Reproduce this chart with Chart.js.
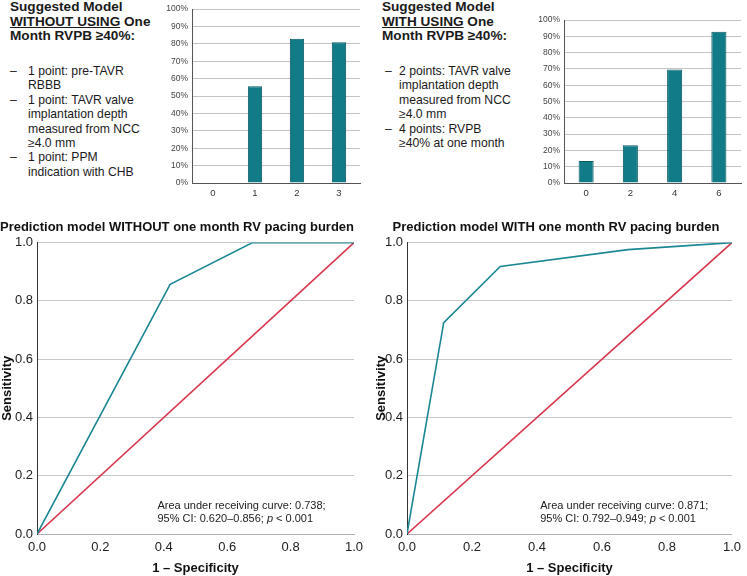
<!DOCTYPE html>
<html>
<head>
<meta charset="utf-8">
<script src="https://cdn.jsdelivr.net/npm/chart.js@4.4.1/dist/chart.umd.min.js"></script>
<style>
    body { margin: 0; background: #fff; }
    #wrap { position: relative; width: 747px; height: 576px; overflow: hidden; font-family: "Liberation Sans", Arial, sans-serif; color: #1a1a1a; }
    .box { position: absolute; }
    .head { font-size: 13.6px; font-weight: bold; line-height: 14.5px; }
    .list { font-size: 12.2px; line-height: 14.4px; }
    .item { display: flex; }
    .item .d { width: 18px; flex: none; }
    canvas { position: absolute; }
</style>
</head>
<body>
<div id="wrap">
    <div class="box head" style="left:10px; top:0px;">Suggested Model<br><u>WITHOUT USING</u> One<br>Month RVPB ≥40%:</div>
    <div class="box list" style="left:10px; top:64px;">
        <div class="item"><span class="d">–</span><span>1 point: pre-TAVR<br>RBBB</span></div>
        <div class="item"><span class="d">–</span><span>1 point: TAVR valve<br>implantation depth<br>measured from NCC<br>≥4.0 mm</span></div>
        <div class="item"><span class="d">–</span><span>1 point: PPM<br>indication with CHB</span></div>
    </div>

    <div class="box head" style="left:382px; top:0px;">Suggested Model<br><u>WITH USING</u> One<br>Month RVPB ≥40%:</div>
    <div class="box list" style="left:385px; top:64px;">
        <div class="item"><span class="d" style="width:14px">–</span><span>2 points: TAVR valve<br>implantation depth<br>measured from NCC<br>≥4.0 mm</span></div>
        <div class="item"><span class="d" style="width:14px">–</span><span>4 points: RVPB<br>≥40% at one month</span></div>
    </div>

    <canvas id="barLeft" style="left:150px; top:0px;" width="215" height="200"></canvas>
    <canvas id="barRight" style="left:530px; top:0px;" width="217" height="200"></canvas>
    <canvas id="rocLeft" style="left:0px; top:200px;" width="372" height="376"></canvas>
    <canvas id="rocRight" style="left:374px; top:200px;" width="373" height="376"></canvas>
</div>

<script>
// bar charts: score -> share of patients with the outcome (%)
const scoresWithout = ["0", "1", "2", "3"];
const pctWithout = [0, 55.6, 82.9, 81.0];
const scoresWith = ["0", "2", "4", "6"];
const pctWith = [13.5, 23.2, 69.7, 92.8];

// ROC curves (x = 1 - specificity, y = sensitivity)
const rocWithoutX = [0, 0.42, 0.68, 1.0];
const rocWithoutY = [0, 0.857, 1.0, 1.0];
const rocWithX = [0, 0.113, 0.287, 0.68, 1.0];
const rocWithY = [0, 0.725, 0.918, 0.976, 1.0];
const refX = [0, 1];
const refY = [0, 1];

const rocTicks = [0, 0.2, 0.4, 0.6, 0.8, 1.0];

const FONT = "'Liberation Sans', Arial, sans-serif";
const TEAL = "#1b8793";
const RED = "#d8374e";
const BAR = "#117b87";

Chart.defaults.font.family = FONT;
Chart.defaults.color = "#222";
Chart.defaults.animation = false;

const toPoints = (xs, ys) => xs.map((x, i) => ({ x: x, y: ys[i] }));

// note text written in data coordinates
const aucNote = {
    id: "aucNote",
    afterDraw(chart, args, opts) {
        if (!opts || !opts.lines) return;
        const ctx = chart.ctx;
        const px = chart.scales.x.getPixelForValue(opts.x);
        let py = chart.scales.y.getPixelForValue(opts.y);
        ctx.save();
        ctx.fillStyle = "#222";
        ctx.textBaseline = "middle";
        opts.lines.forEach(function (parts) {
            let cx = px;
            parts.forEach(function (p) {
                ctx.font = (p.italic ? "italic " : "") + "11px " + FONT;
                ctx.fillText(p.t, cx, py);
                cx += ctx.measureText(p.t).width;
            });
            py += 12.5;
        });
        ctx.restore();
    },
};

function barChart(id, labels, values, yWidth, pad) {
    new Chart(document.getElementById(id), {
        type: "bar",
        data: {
            labels: labels,
            datasets: [
                {
                    data: values,
                    backgroundColor: BAR,
                    borderColor: "#0a5a63",
                    borderWidth: 1,
                    barPercentage: 0.34,
                    categoryPercentage: 1,
                },
            ],
        },
        options: {
            responsive: false,
            layout: { padding: pad },
            plugins: { legend: { display: false }, tooltip: { enabled: false } },
            scales: {
                x: {
                    grid: { display: false, drawTicks: false },
                    border: { color: "#555" },
                    ticks: { font: { size: 9.5 }, color: "#333", padding: 5 },
                    afterFit: (s) => { s.height = 17; },
                },
                y: {
                    min: 0,
                    max: 100,
                    ticks: { stepSize: 10, font: { size: 8.5 }, color: "#444", padding: 4, callback: (v) => v + "%" },
                    grid: { color: "#c4c4c4", drawTicks: false },
                    border: { color: "#555" },
                    afterFit: (s) => { s.width = yWidth; },
                },
            },
        },
    });
}

barChart("barLeft", scoresWithout, pctWithout, 42, { top: 6, right: 5, left: 0, bottom: 0 });
barChart("barRight", scoresWith, pctWith, 34, { top: 20, right: 6, left: 0, bottom: 0 });

function rocChart(id, title, xs, ys, yWidth, padRight, note) {
    new Chart(document.getElementById(id), {
        type: "scatter",
        data: {
            datasets: [
                {
                    data: toPoints(xs, ys),
                    showLine: true,
                    borderColor: TEAL,
                    borderWidth: 1.6,
                    pointRadius: 0,
                },
                {
                    data: toPoints(refX, refY),
                    showLine: true,
                    borderColor: RED,
                    borderWidth: 1.6,
                    pointRadius: 0,
                },
            ],
        },
        options: {
            responsive: false,
            layout: { padding: { top: 0, right: padRight, left: 0, bottom: 0 } },
            plugins: {
                legend: { display: false },
                tooltip: { enabled: false },
                title: {
                    display: true,
                    text: title,
                    color: "#111",
                    font: { size: 13, weight: "bold" },
                    padding: { top: 20, bottom: 7 },
                },
                aucNote: note,
            },
            scales: {
                x: {
                    type: "linear",
                    min: 0,
                    max: 1,
                    afterBuildTicks: (s) => { s.ticks = rocTicks.map((v) => ({ value: v })); },
                    ticks: { font: { size: 13 }, color: "#222", padding: 6, callback: (v) => v.toFixed(1) },
                    grid: { display: false, drawTicks: false },
                    border: { color: "#b0b0b0" },
                    title: {
                        display: true,
                        text: "1 – Specificity",
                        color: "#111",
                        font: { size: 13, weight: "bold" },
                        padding: { top: 4, bottom: 0 },
                    },
                    afterFit: (s) => { s.height = 42; },
                },
                y: {
                    type: "linear",
                    min: 0,
                    max: 1,
                    afterBuildTicks: (s) => { s.ticks = rocTicks.map((v) => ({ value: v })); },
                    ticks: { font: { size: 13 }, color: "#222", padding: 4, callback: (v) => v.toFixed(1) },
                    grid: { color: "#c8c8c8", drawTicks: false },
                    border: { color: "#333" },
                    title: {
                        display: true,
                        text: "Sensitivity",
                        color: "#111",
                        font: { size: 13, weight: "bold" },
                        padding: { top: 0, bottom: 0 },
                    },
                    afterFit: (s) => { s.width = yWidth; },
                },
            },
        },
        plugins: [aucNote],
    });
}

rocChart("rocLeft", "Prediction model WITHOUT one month RV pacing burden", rocWithoutX, rocWithoutY, 37, 18, {
    x: 0.38,
    y: 0.096,
    lines: [
        [{ t: "Area under receiving curve: 0.738;" }],
        [{ t: "95% CI: 0.620–0.856; " }, { t: "p", italic: true }, { t: " < 0.001" }],
    ],
});

rocChart("rocRight", "Prediction model WITH one month RV pacing burden", rocWithX, rocWithY, 33, 9, {
    x: 0.41,
    y: 0.096,
    lines: [
        [{ t: "Area under receiving curve: 0.871;" }],
        [{ t: "95% CI: 0.792–0.949; " }, { t: "p", italic: true }, { t: " < 0.001" }],
    ],
});
</script>
</body>
</html>
